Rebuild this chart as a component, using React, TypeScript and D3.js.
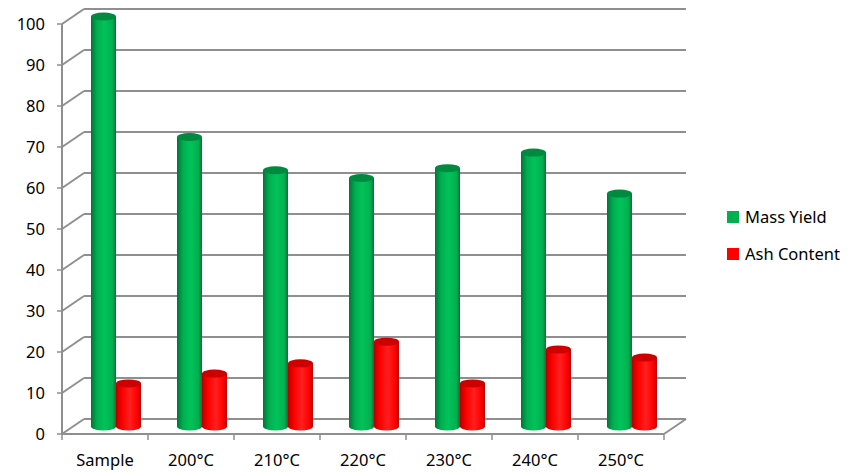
import * as d3 from "d3";

const categories = ["Sample", "200°C", "210°C", "220°C", "230°C", "240°C", "250°C"];
const massYield = [100, 70.6, 62.5, 60.6, 63, 66.8, 56.8];
const ashContent = [10.5, 12.9, 15.4, 20.7, 10.5, 18.8, 16.8];
const seriesNames = ["Mass Yield", "Ash Content"];
const yTicks = [0, 10, 20, 30, 40, 50, 60, 70, 80, 90, 100];

const W = 858;
const H = 473;
const FONT = "'Noto Sans', 'Open Sans', sans-serif";

// 3d depth offset of the back wall
const DX = 22;
const DY = -15;

const seriesStyle = [
  { light: "#00c35a", mid: "#00b050", dark: "#00753a", top: "#008a40" },
  { light: "#ff2020", mid: "#ff0000", dark: "#b80000", top: "#cc0000" },
];

export default function App() {
  const x0 = d3.scaleBand<string>().domain(categories).range([62, 664]);
  const y = d3.scaleLinear().domain([0, 100]).range([434, 24]);
  const x1 = d3.scaleBand<string>().domain(seriesNames).range([0, 50]);

  const values = [massYield, ashContent];
  const bw = x1.bandwidth();
  const ry = 4;

  return (
    <svg width={W} height={H} style={{ position: "absolute", left: 0, top: 0, background: "#fff" }}>
      <defs>
        {seriesStyle.map((s, i) => (
          <linearGradient key={i} id={`cyl${i}`} x1="0" x2="1" y1="0" y2="0">
            <stop offset="0" stopColor={s.dark} />
            <stop offset="0.25" stopColor={s.mid} />
            <stop offset="0.55" stopColor={s.light} />
            <stop offset="0.85" stopColor={s.mid} />
            <stop offset="1" stopColor={s.dark} />
          </linearGradient>
        ))}
      </defs>

      {/* back wall gridlines + side wall diagonals */}
      {yTicks.map((t) => (
        <g key={t} stroke="#8f8f8f" strokeWidth={2} fill="none">
          <line x1={62 + DX} x2={664 + DX} y1={y(t) + DY} y2={y(t) + DY} />
          <line x1={62} x2={62 + DX} y1={y(t)} y2={y(t) + DY} />
          <line x1={57} x2={62} y1={y(t)} y2={y(t)} strokeWidth={1.5} />
        </g>
      ))}
      {/* front axis */}
      <line x1={62} x2={62} y1={y(0)} y2={y(100)} stroke="#8f8f8f" strokeWidth={2} />
      <line x1={62} x2={664} y1={y(0)} y2={y(0)} stroke="#8f8f8f" strokeWidth={2} />
      <line x1={664} x2={664 + DX} y1={y(0)} y2={y(0) + DY} stroke="#8f8f8f" strokeWidth={2} />
      {categories.concat(["end"]).map((c, i) => {
        const xx = 62 + i * x0.bandwidth();
        return <line key={c} x1={xx} x2={xx} y1={y(0)} y2={y(0) + 6} stroke="#8f8f8f" strokeWidth={1.5} />;
      })}

      {/* y labels */}
      {yTicks.map((t) => (
        <text key={t} x={45} y={y(t)} dy="0.36em" textAnchor="end" fontFamily={FONT} fontSize={16.5} fill="#000">
          {t}
        </text>
      ))}

      {/* category labels */}
      {categories.map((c) => (
        <text key={c} x={(x0(c) as number) + x0.bandwidth() / 2} y={466} textAnchor="middle" fontFamily={FONT} fontSize={16.5} fill="#000">
          {c}
        </text>
      ))}

      {/* cylinders */}
      {categories.map((c, ci) => (
        <g key={c}>
          {seriesNames.map((s, si) => {
            const v = values[si][ci];
            const left = (x0(c) as number) + (x0.bandwidth() - 50) / 2 + (x1(s) as number) + DX / 2;
            const base = y(0) + DY / 2;
            const topY = y(v) + DY / 2;
            const cx = left + bw / 2;
            const path = `M${left},${topY} L${left},${base} A${bw / 2},${ry} 0 0 0 ${left + bw},${base} L${left + bw},${topY} Z`;
            return (
              <g key={s}>
                <path d={path} fill={`url(#cyl${si})`} />
                <ellipse cx={cx} cy={topY} rx={bw / 2} ry={ry} fill={seriesStyle[si].top} />
              </g>
            );
          })}
        </g>
      ))}

      {/* legend */}
      {seriesNames.map((s, i) => (
        <g key={s} transform={`translate(727,${211 + i * 37})`}>
          <rect width={12} height={12} fill={seriesStyle[i].mid} />
          <text x={18} y={12} fontFamily={FONT} fontSize={16.5} fill="#000">
            {s}
          </text>
        </g>
      ))}
    </svg>
  );
}
